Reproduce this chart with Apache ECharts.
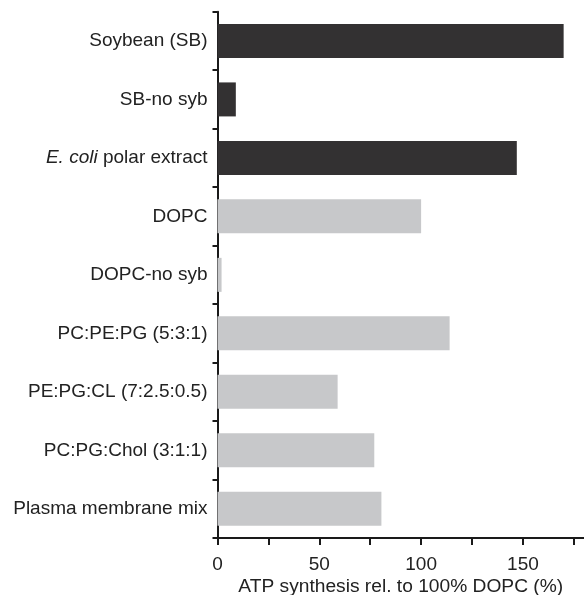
<!DOCTYPE html>
<html>
<head>
<meta charset="utf-8">
<script src="https://cdn.jsdelivr.net/npm/echarts@6/dist/echarts.min.js"></script>
<style>
  html, body { margin: 0; padding: 0; background: #fff; }
  #chart { width: 584px; height: 595px; }
</style>
</head>
<body>
<div id="chart"></div>
<script>
// Lipid compositions tested, top to bottom
const lipids = [
  'Soybean (SB)',
  'SB-no syb',
  'E. coli polar extract',
  'DOPC',
  'DOPC-no syb',
  'PC:PE:PG (5:3:1)',
  'PE:PG:CL (7:2.5:0.5)',
  'PC:PG:Chol (3:1:1)',
  'Plasma membrane mix'
];
// ATP synthesis relative to DOPC (%)
const atpSynthesis = [170, 9, 147, 100, 2, 114, 59, 77, 80.5];
// natural lipid extracts vs. defined synthetic mixtures
const lipidSource = ['extract', 'extract', 'extract', 'synthetic', 'synthetic', 'synthetic', 'synthetic', 'synthetic', 'synthetic'];
const xTicks = [0, 25, 50, 75, 100, 125, 150, 175];
const xTickLabels = [0, 50, 100, 150];

const FONT = '"Liberation Sans", Arial, Helvetica, sans-serif';
const AXIS = '#1a1a1a';
const TEXT = '#222';

const chart = echarts.init(document.getElementById('chart'), null, { renderer: 'canvas' });
chart.setOption({
  animation: false,
  backgroundColor: '#fff',
  grid: { left: 217.5, right: 0, top: 11.7, bottom: 57, containLabel: false, outerBoundsMode: 'none' },
  xAxis: {
    type: 'value',
    min: 0,
    max: 180,
    name: 'ATP synthesis rel. to 100% DOPC (%)',
    nameLocation: 'middle',
    nameGap: 39,
    nameMoveOverlap: false,
    nameTextStyle: { fontFamily: FONT, fontSize: 19.2, color: TEXT },
    axisLine: { show: true, lineStyle: { color: AXIS, width: 2 } },
    axisTick: { show: true, length: 7, lineStyle: { color: AXIS, width: 2 }, customValues: xTicks },
    axisLabel: { fontFamily: FONT, fontSize: 19, color: TEXT, margin: 17, customValues: xTickLabels },
    splitLine: { show: false }
  },
  yAxis: {
    type: 'category',
    inverse: true,
    data: lipids,
    axisLine: { show: true, lineStyle: { color: AXIS, width: 2 } },
    axisTick: { show: true, length: 5, lineStyle: { color: AXIS, width: 2 } },
    axisLabel: {
      fontFamily: FONT,
      fontSize: 19,
      color: TEXT,
      margin: 10,
      formatter: v => v.startsWith('E. coli') ? '{i|E. coli}' + v.slice(7) : v,
      rich: { i: { fontStyle: 'italic', fontFamily: FONT, fontSize: 19, color: TEXT } }
    }
  },
  series: [{
    type: 'bar',
    data: atpSynthesis,
    barWidth: 34,
    itemStyle: {
      color: p => lipidSource[p.dataIndex] === 'extract' ? '#333132' : '#c7c8ca'
    }
  }]
});
</script>
</body>
</html>
